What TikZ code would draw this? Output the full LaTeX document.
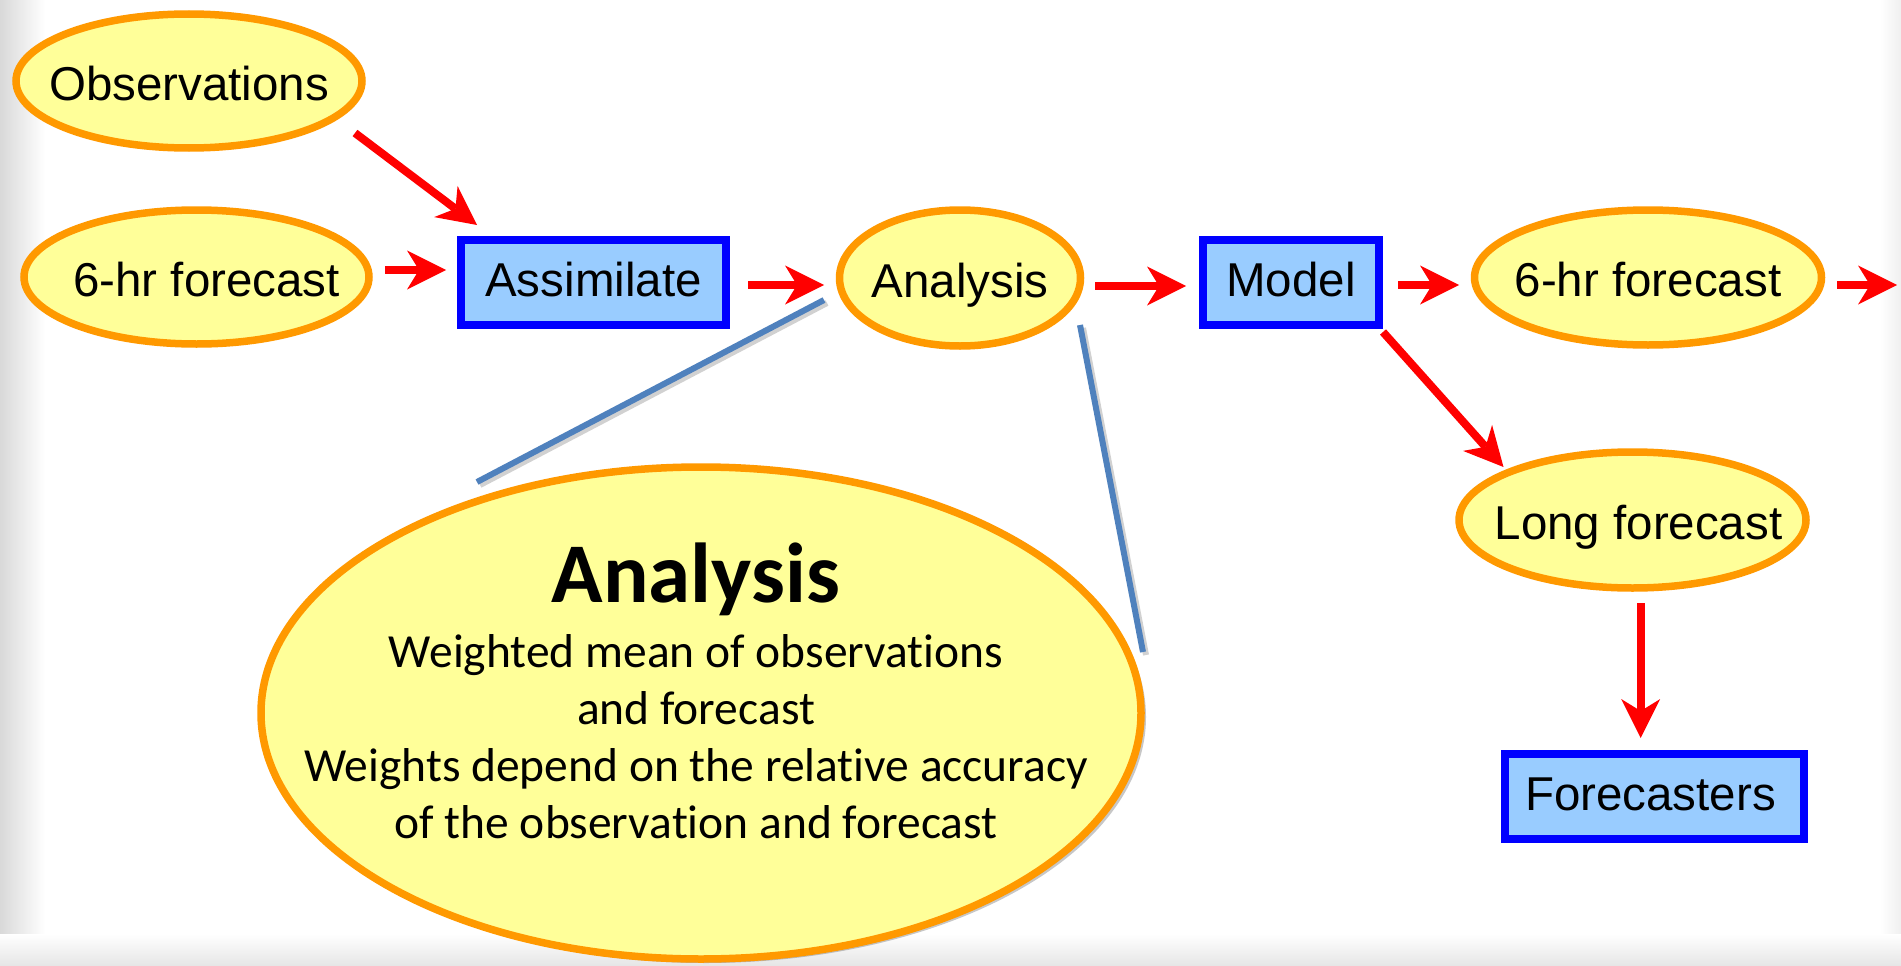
\documentclass[tikz,border=0pt]{standalone}
\usepackage{fontspec}
\newfontfamily\arialf{Liberation Sans}
\newfontfamily\calib[Ligatures=NoCommon]{Carlito}
\usetikzlibrary{arrows.meta,calc,shadows,shapes.geometric}
\definecolor{ellfill}{HTML}{FFFF99}
\definecolor{ellline}{HTML}{FF9900}
\definecolor{boxfill}{HTML}{99CCFF}
\definecolor{boxline}{HTML}{0000FF}
\definecolor{arrred}{HTML}{FF0000}
\definecolor{callout}{HTML}{4F81BD}
\begin{document}
\begin{tikzpicture}[x=1pt,y=-1pt,
 ell/.style={ellipse, draw=ellline, fill=ellfill, line width=7.5pt, inner xsep=-80pt, inner ysep=0pt, text height=38pt, text depth=0pt, font=\arialf\fontsize{47.5}{57}\selectfont},
 boxnode/.style={rectangle, draw=boxline, fill=boxfill, line width=7.5pt, inner sep=0pt, minimum height=85pt, text height=27pt, text depth=0pt, font=\arialf\fontsize{47.5}{57}\selectfont},
 arr/.style={draw=arrred, line width=8pt, -{Stealth[length=39pt,width=39pt,inset=12pt,line width=0pt]}},
 callline/.style={draw=callout, line width=6pt},
 callshadow/.style={draw=black, opacity=0.18, line width=6pt},
 bigline/.style={font=\calib\fontsize{47.5}{57}\selectfont, anchor=base, inner sep=0pt},
]
\useasboundingbox (0,0) rectangle (1901,966);
\fill[white] (0,0) rectangle (1901,966);
\shade[left color=black!15, right color=white] (0,0) rectangle (45,966);
\shade[left color=white, right color=black!6] (1880,0) rectangle (1901,966);
\shade[top color=white, bottom color=black!10] (0,934) rectangle (1901,966);

% nodes
\node[ell, minimum width=346pt, minimum height=134pt] (obs) at (189,81) {Observations};
\node[ell, minimum width=345pt, minimum height=134pt] (fc1) at (196.5,277) {\hspace*{20pt}6-hr forecast};
\node[boxnode, minimum width=265pt] (assim) at (593.5,282.5) {Assimilate};
\node[ell, minimum width=241pt, minimum height=136pt] (ana) at (960,278) {Analysis};
\node[boxnode, minimum width=176pt] (model) at (1291,282.5) {Model};
\node[ell, minimum width=347pt, minimum height=135pt] (fc2) at (1648,277.5) {6-hr forecast};
\node[ell, minimum width=347pt, minimum height=136pt] (long) at (1632.5,520) {\hspace*{12pt}Long forecast};
\node[boxnode, minimum width=299pt] (fcst) at (1654.5,796.5) {Forecasters\hspace*{8pt}};
\coordinate (out) at (1897,285);

% callout lines
\draw[callshadow] ($(ana)+(-133,25)$) -- ($(ana)+(-480,207)$);
\draw[callshadow] ($(ana)+(123,50)$) -- ($(ana)+(186,377)$);
\draw[callline] ($(ana)+(-136,22)$) -- ($(ana)+(-483,204)$);
\draw[callline] ($(ana)+(120,47)$) -- ($(ana)+(183,374)$);

% big ellipse
\node[ellipse, draw=ellline, fill=ellfill, line width=7.5pt, minimum width=880pt, minimum height=492pt, inner sep=0pt,
  drop shadow={shadow xshift=5pt, shadow yshift=-4pt, fill=black, opacity=0.22}] (big) at (701,713) {};
\node[font=\calib\bfseries\fontsize{85}{85}\selectfont, anchor=base, inner sep=0pt] (bigtitle) at (696,602) {Analysis};
\node[bigline] (bl1) at (696,667) {Weighted mean of observations};
\node[bigline] (bl2) at (696,724) {and forecast};
\node[bigline] (bl3) at (696,781) {Weights depend on the relative accuracy};
\node[bigline] (bl4) at (696,838) {of the observation and forecast};

% arrows
\draw[arr] ($(obs)+(166,52)$) -- ($(assim)+(-116.5,-57.5)$);
\draw[arr] ($(fc1)+(188.5,-7)$) -- ($(assim)+(-147.5,-12.5)$);
\draw[arr] ($(assim)+(154.5,2.5)$) -- ($(ana)+(-136,7)$);
\draw[arr] ($(ana)+(135,8)$) -- ($(model)+(-105,3.5)$);
\draw[arr] ($(model)+(107,2.5)$) -- ($(fc2)+(-189,7.5)$);
\draw[arr] ($(fc2)+(189,7.5)$) -- (out);
\draw[arr] ($(model)+(92,49.5)$) -- ($(long)+(-129,-53)$);
\draw[arr] ($(long)+(8.2,83)$) -- ($(fcst)+(-13.8,-58.5)$);
\end{tikzpicture}
\end{document}
